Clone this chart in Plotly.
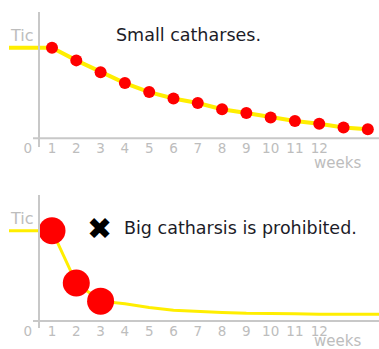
import plotly.graph_objects as go

# --- data ---------------------------------------------------------------
weeks = list(range(1, 15))
week_ticks = list(range(0, 13))
tic_level = 1.0

# steady decline with many small releases
small_catharses = [1.00, 0.86, 0.73, 0.61, 0.51, 0.44, 0.39,
                   0.32, 0.28, 0.23, 0.19, 0.16, 0.12, 0.10]
# sharp drop from a few large releases, then a flat tail
big_catharsis = [1.00, 0.42, 0.22, 0.19, 0.15, 0.12, 0.105,
                 0.095, 0.085, 0.085, 0.08, 0.075, 0.075, 0.075]
big_marked = 3  # only the first three weeks carry a big release

top_title = "Small catharses."
bottom_title = "Big catharsis is prohibited."

# --- styling ------------------------------------------------------------
W, H = 379, 349
YELLOW = "#ffee00"
RED = "#ff0000"
AXIS = "#c8c8c8"
LABEL = "#bdbdbd"
FONT = "DejaVu Sans"

# shared horizontal scale (week units)
x_range = [-0.77, 14.46]
x_dom = [9 / W, 1.0]


def py(px):
    """pixel row (from top) -> paper fraction"""
    return 1 - px / H


fig = go.Figure()

panels = [
    dict(vals=small_catharses, marked=len(weeks), msize=12, lw=4,
         xa="x", ya="y", tail=False),
    dict(vals=big_catharsis, marked=big_marked, msize=27, lw=3,
         xa="x2", ya="y2", tail=True),
]

for p in panels:
    vals = p["vals"]
    lx = [x_range[0]] + weeks
    ly = [tic_level] + vals
    if p["tail"]:
        lx = lx + [x_range[1]]
        ly = ly + [vals[-1]]
    fig.add_trace(go.Scatter(
        x=lx, y=ly, mode="lines",
        line=dict(color=YELLOW, width=p["lw"]),
        xaxis=p["xa"], yaxis=p["ya"], hoverinfo="skip", showlegend=False,
    ))
    n = p["marked"]
    fig.add_trace(go.Scatter(
        x=weeks[:n], y=vals[:n], mode="markers",
        marker=dict(color=RED, size=p["msize"], line=dict(width=0)),
        xaxis=p["xa"], yaxis=p["ya"], cliponaxis=False, showlegend=False,
    ))

# panel geometry: (y-axis top px, y-axis bottom px, baseline px, tic px)
geo = {
    "top": (12, 147, 138.3, 47.7),
    "bottom": (195, 328, 321.0, 230.7),
}


def y_range(g):
    top, bot, base, tic = g
    scale = (base - tic) / tic_level
    return [(base - bot) / scale, (base - top) / scale]


xaxis_common = dict(
    range=x_range, domain=x_dom, anchor="free",
    showgrid=False, zeroline=False, showline=False, ticks="",
    tickmode="array", tickvals=week_ticks,
    ticktext=[str(t) for t in week_ticks],
    tickfont=dict(family=FONT, size=13.5, color=LABEL),
)
yaxis_common = dict(
    anchor="free", position=39 / W,
    showgrid=False, zeroline=False, showticklabels=False, ticks="",
    showline=True, linecolor=AXIS, linewidth=2,
)

g_top, g_bot = geo["top"], geo["bottom"]
fig.update_layout(
    width=W, height=H,
    margin=dict(l=0, r=0, t=0, b=0),
    paper_bgcolor="white", plot_bgcolor="white",
    xaxis=dict(**xaxis_common, position=py(g_top[2])),
    xaxis2=dict(**xaxis_common, position=py(g_bot[2])),
    yaxis=dict(**yaxis_common, domain=[py(g_top[1]), py(g_top[0])],
               range=y_range(g_top)),
    yaxis2=dict(**yaxis_common, domain=[py(g_bot[1]), py(g_bot[0])],
                range=y_range(g_bot)),
)

# horizontal axis lines at the zero level of each panel
for yref in ("y", "y2"):
    fig.add_shape(type="line", xref="paper", yref=yref,
                  x0=33 / W, x1=1, y0=0, y1=0,
                  line=dict(color=AXIS, width=2), layer="below")

annotations = []
for yref, g, dy in (("y", g_top, 24.5), ("y2", g_bot, 19.5)):
    # "Tic" level label
    annotations.append(dict(
        text="Tic", xref="paper", yref=yref, x=36 / W, y=tic_level,
        xanchor="right", yanchor="bottom", yshift=1, showarrow=False,
        font=dict(family=FONT, size=16, color=LABEL),
    ))
    # "weeks" unit label
    annotations.append(dict(
        text="weeks", xref="paper", yref="paper", x=337 / W,
        y=py(g[2] + dy), xanchor="center", yanchor="middle",
        showarrow=False, font=dict(family=FONT, size=15, color=LABEL),
    ))

annotations.append(dict(
    text=top_title, xref="paper", yref="paper", x=188 / W, y=py(35),
    xanchor="center", yanchor="middle", showarrow=False,
    font=dict(family=FONT, size=17.5, color="#1c1c28"),
))
annotations.append(dict(
    text="✖", xref="paper", yref="paper", x=99 / W, y=py(228),
    xanchor="center", yanchor="middle", showarrow=False,
    font=dict(family=FONT, size=30, color="black"),
))
annotations.append(dict(
    text=bottom_title, xref="paper", yref="paper", x=122 / W, y=py(228),
    xanchor="left", yanchor="middle", showarrow=False,
    font=dict(family=FONT, size=17.5, color="#1c1c28"),
))
fig.update_layout(annotations=annotations)

fig.write_html("out.html")
